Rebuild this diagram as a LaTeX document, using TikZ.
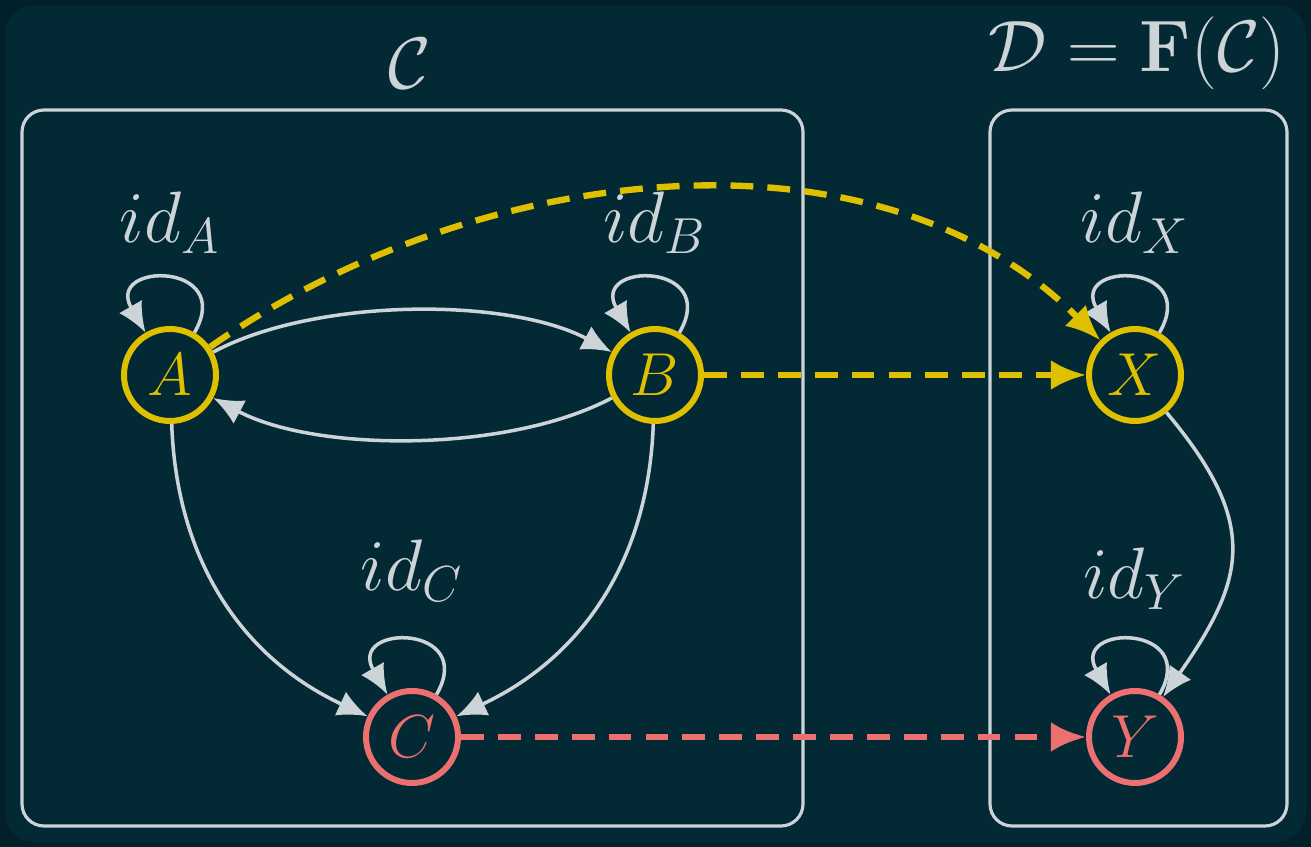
\documentclass[tikz,border=0pt]{standalone}
\usepackage{tikz}
\usetikzlibrary{arrows.meta}
\definecolor{bgdark}{HTML}{01202A}
\definecolor{bgteal}{HTML}{032935}
\definecolor{gold}{HTML}{DEC000}
\definecolor{salmon}{HTML}{EC7070}
\definecolor{pale}{HTML}{CDD4D7}

\begin{document}
\begin{tikzpicture}[font=\huge,
  obj/.style={circle,draw=gold,text=gold,line width=1.7pt,minimum size=0.92cm,inner sep=0pt,font=\LARGE},
  objr/.style={obj,draw=salmon,text=salmon},
  catbox/.style={draw=pale,line width=0.9pt,rounded corners=0.22cm},
  arr/.style={draw=pale,line width=1pt,-{Latex[length=8.5pt,width=7.5pt]}},
  fmap/.style={line width=1.8pt,dash pattern=on 6.5pt off 4pt,-{Latex[length=10pt,width=8.5pt]}}]
  \fill[bgdark] (0,0) rectangle (13.11,-8.47);
  \fill[bgteal,rounded corners=0.3cm] (0.05,-0.05) rectangle (13.06,-8.42);
  \draw[catbox] (0.22,-1.10) rectangle (8.03,-8.26);
  \draw[catbox] (9.90,-1.10) rectangle (12.87,-8.26);
  \node[text=pale] (tC) at (4.10,-0.64) {$\mathcal{C}$};
  \node[text=pale] (tD) at (11.37,-0.53) {$\mathcal{D}=\mathbf{F}(\mathcal{C})$};

  \node[obj] (A) at (1.70,-3.75) {$A$};
  \node[obj] (B) at (6.55,-3.75) {$B$};
  \node[objr] (C) at (4.12,-7.37) {$C$};
  \node[obj] (X) at (11.35,-3.75) {$X$};
  \node[objr] (Y) at (11.35,-7.37) {$Y$};

  \foreach \n/\y in {A/1.52,B/1.52,C/1.66,X/1.52,Y/1.58} {
    \node[text=pale] (id\n) at ([yshift=\y cm]\n) {$id_\n$};
    \draw[arr] (\n) to[out=60,in=120,looseness=4.3] (\n);
  }

  \draw[arr] (A) to[out=28,in=152,looseness=0.75] (B);
  \draw[arr] (B) to[out=208,in=-28,looseness=0.75] (A);
  \draw[arr] (A) to[out=-88,in=155] (C);
  \draw[arr] (B) to[out=-92,in=25] (C);
  \draw[arr] (X) to[out=-50,in=55,looseness=1.3] (Y);

  \draw[fmap,gold] (A) to[out=35,in=135,looseness=0.92] (X);
  \draw[fmap,gold] (B) -- (X);
  \draw[fmap,salmon] (C) -- (Y);
\end{tikzpicture}
\end{document}
